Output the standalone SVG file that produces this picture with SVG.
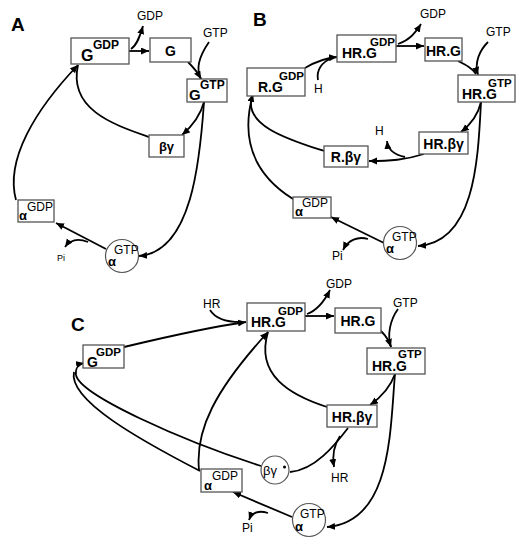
<svg xmlns="http://www.w3.org/2000/svg" width="525" height="544" viewBox="0 0 525 544">
<defs>
<marker id="ah" markerUnits="userSpaceOnUse" markerWidth="9" markerHeight="8" refX="8" refY="3.5" orient="auto">
<path d="M0,0 L8,3.5 L0,7 z" fill="#000"/>
</marker>
<style>
.box{fill:#fff;stroke:#555;stroke-width:1.3}
.cir{fill:#fff;stroke:#555;stroke-width:1.2}
.c{fill:none;stroke:#000;stroke-width:1.8}
.a{fill:none;stroke:#000;stroke-width:1.8;marker-end:url(#ah)}
.b{font-family:"Liberation Sans",Arial,sans-serif;font-weight:bold;fill:#000}
.r{font-family:"Liberation Sans",Arial,sans-serif;fill:#000}
.pl{font-family:"Liberation Sans",Arial,sans-serif;font-weight:bold;font-size:19px;fill:#000}
</style>
</defs>
<rect width="525" height="544" fill="#fff"/>

<g id="connectors">
<!-- Panel A -->
<path class="a" d="M129,51 L149,51"/>
<path class="a" d="M131,49 C137,45 140,36 143,26"/>
<path class="a" d="M209,42 C200,55 195,68 201,79"/>
<path class="c" d="M188,62 C194,68 198,72 201,79"/>
<path class="a" d="M204,102 C200,117 190,128 182,135"/>
<path class="a" d="M204,102 C200,160 192,252 139,256"/>
<path class="c" d="M149,137 C115,125 68,110 78,65"/>
<path class="a" d="M16,200 C5,160 35,110 78,65"/>
<path class="a" d="M106,249 L56,223"/>
<path class="a" d="M88,242 C78,238 70,240 65,247"/>
<!-- Panel B -->
<path class="a" d="M305,68 C315,62 325,58 337,57"/>
<path class="c" d="M318,80 C316,70 322,62 332,58"/>
<path class="a" d="M396,46 L424,46"/>
<path class="a" d="M398,44 C410,40 416,32 421,24"/>
<path class="a" d="M488,42 C480,50 474,62 478,75"/>
<path class="c" d="M458,61 C466,65 472,68 476,74"/>
<path class="a" d="M481,102 C478,115 470,125 461,132"/>
<path class="a" d="M481,102 C478,160 475,242 418,246"/>
<path class="a" d="M424,154 C405,160 390,161 369,161"/>
<path class="a" d="M405,157 C395,155 388,150 387,141"/>
<path class="c" d="M324,151 C290,140 240,125 253,94"/>
<path class="a" d="M293,199 C255,175 240,140 253,94"/>
<path class="a" d="M384,243 L331,217"/>
<path class="a" d="M368,239 C358,236 348,240 343,250"/>
<!-- Panel C -->
<path class="a" d="M124,347 C170,336 210,327 246,322"/>
<path class="c" d="M210,310 C215,318 225,322 240,322"/>
<path class="a" d="M305,316 L334,316"/>
<path class="a" d="M307,314 C318,310 325,300 330,290"/>
<path class="a" d="M398,309 C390,320 387,335 391,347"/>
<path class="c" d="M381,331 C386,336 389,340 391,347"/>
<path class="a" d="M395,374 C390,388 380,398 370,405"/>
<path class="a" d="M395,374 C390,430 392,522 327,527"/>
<path class="c" d="M327,407 C290,395 255,375 268,332"/>
<path class="a" d="M199,470 C195,430 215,390 268,332"/>
<path class="c" d="M348,428 C335,445 315,470 290,472"/>
<path class="a" d="M340,436 C334,445 332,455 334,467"/>
<path class="c" d="M261,466 C180,440 80,395 76,375"/>
<path class="a" d="M76,375 C75,368 79,364 84,363"/>
<path class="c" d="M200,471 C140,440 68,400 74,372"/>
<path class="a" d="M292,517 L233,492"/>
<path class="a" d="M268,513 C258,510 252,512 249,520"/>
</g>

<!-- Panel labels -->
<text class="pl" x="11" y="31">A</text>
<text class="pl" x="253" y="26">B</text>
<text class="pl" x="71" y="331">C</text>

<!-- free labels -->
<g id="labels">
<text class="r" font-size="12" x="137" y="20">GDP</text>
<text class="r" font-size="12" x="203" y="37">GTP</text>
<text class="r" font-size="9" x="57" y="261">Pi</text>
<text class="r" font-size="12" x="420" y="18">GDP</text>
<text class="r" font-size="12" x="486" y="36">GTP</text>
<text class="r" font-size="12" x="314" y="93">H</text>
<text class="r" font-size="12" x="375" y="135">H</text>
<text class="r" font-size="12" x="332" y="260">Pi</text>
<text class="r" font-size="12" x="203" y="308">HR</text>
<text class="r" font-size="12" x="326" y="288">GDP</text>
<text class="r" font-size="12" x="393" y="307">GTP</text>
<text class="r" font-size="12" x="331" y="482">HR</text>
<text class="r" font-size="12" x="242" y="532">Pi</text>
</g>

<!-- Panel A nodes -->
<g id="A_GGDP"><rect class="box" x="71" y="38" width="58" height="26"/><text class="b" font-size="16" x="81" y="61">G</text><text class="b" font-size="12" x="93" y="49">GDP</text></g>
<g id="A_G"><rect class="box" x="150" y="38" width="41" height="24"/><text class="b" font-size="14" x="170.5" y="56" text-anchor="middle">G</text></g>
<g id="A_GGTP"><rect class="box" x="187" y="79" width="40" height="23"/><text class="b" font-size="15" x="189" y="100">G</text><text class="b" font-size="12" x="200" y="89">GTP</text></g>
<g id="A_bg"><rect class="box" x="149" y="135" width="35" height="22"/><text class="b" font-size="13" x="166.5" y="151" text-anchor="middle">βγ</text></g>
<g id="A_aGDP"><rect class="box" x="18" y="200" width="36" height="22"/><text class="b" font-size="13" x="19" y="220">α</text><text class="r" font-size="12" x="27" y="211">GDP</text></g>
<g id="A_aGTP"><circle class="cir" cx="122" cy="256" r="16.5"/><text class="b" font-size="13" x="108" y="266">α</text><text class="r" font-size="12" x="114" y="254">GTP</text></g>

<!-- Panel B nodes -->
<g id="B_HRGGDP"><rect class="box" x="337" y="35" width="59" height="27"/><text class="b" font-size="14" x="342" y="58">HR.G</text><text class="b" font-size="11.5" x="370" y="46">GDP</text></g>
<g id="B_RGGDP"><rect class="box" x="247" y="68" width="58" height="28"/><text class="b" font-size="14" x="258" y="92">R.G</text><text class="b" font-size="11.5" x="279" y="80">GDP</text></g>
<g id="B_HRG"><rect class="box" x="425" y="38" width="37" height="23"/><text class="b" font-size="14" x="443.5" y="56" text-anchor="middle">HR.G</text></g>
<g id="B_HRGGTP"><rect class="box" x="458" y="75" width="57" height="27"/><text class="b" font-size="14" x="462" y="99">HR.G</text><text class="b" font-size="11.5" x="488" y="87">GTP</text></g>
<g id="B_HRbg"><rect class="box" x="419" y="132" width="49" height="22"/><text class="b" font-size="14" x="443.5" y="149" text-anchor="middle">HR.βγ</text></g>
<g id="B_Rbg"><rect class="box" x="324" y="146" width="44" height="21"/><text class="b" font-size="14" x="346" y="162" text-anchor="middle">R.βγ</text></g>
<g id="B_aGDP"><rect class="box" x="293" y="197" width="38" height="21"/><text class="b" font-size="13" x="295" y="216">α</text><text class="r" font-size="12" x="302" y="207">GDP</text></g>
<g id="B_aGTP"><circle class="cir" cx="400" cy="243" r="16.5"/><text class="b" font-size="13" x="386" y="253">α</text><text class="r" font-size="12" x="392" y="241">GTP</text></g>

<!-- Panel C nodes -->
<g id="C_GGDP"><rect class="box" x="83" y="345" width="41" height="23"/><text class="b" font-size="14" x="87" y="367">G</text><text class="b" font-size="11.5" x="96" y="356">GDP</text></g>
<g id="C_HRGGDP"><rect class="box" x="247" y="303" width="58" height="28"/><text class="b" font-size="14" x="251" y="327">HR.G</text><text class="b" font-size="11.5" x="278" y="315">GDP</text></g>
<g id="C_HRG"><rect class="box" x="335" y="308" width="46" height="25"/><text class="b" font-size="14" x="358" y="326" text-anchor="middle">HR.G</text></g>
<g id="C_HRGGTP"><rect class="box" x="367" y="348" width="58" height="26"/><text class="b" font-size="14" x="372" y="371">HR.G</text><text class="b" font-size="11.5" x="398" y="358">GTP</text></g>
<g id="C_HRbg"><rect class="box" x="327" y="405" width="50" height="22"/><text class="b" font-size="14" x="352" y="422" text-anchor="middle">HR.βγ</text></g>
<g id="C_bgstar"><circle class="cir" cx="275" cy="470" r="14"/><text class="r" font-size="13" x="263" y="475">βγ</text><circle cx="284.5" cy="467" r="1.5" fill="#000"/></g>
<g id="C_aGDP"><rect class="box" x="201" y="469" width="41" height="23"/><text class="b" font-size="13" x="204" y="490">α</text><text class="r" font-size="12" x="212" y="480">GDP</text></g>
<g id="C_aGTP"><circle class="cir" cx="309" cy="520" r="16.5"/><text class="b" font-size="13" x="295" y="531">α</text><text class="r" font-size="12" x="300" y="518">GTP</text></g>
</svg>
